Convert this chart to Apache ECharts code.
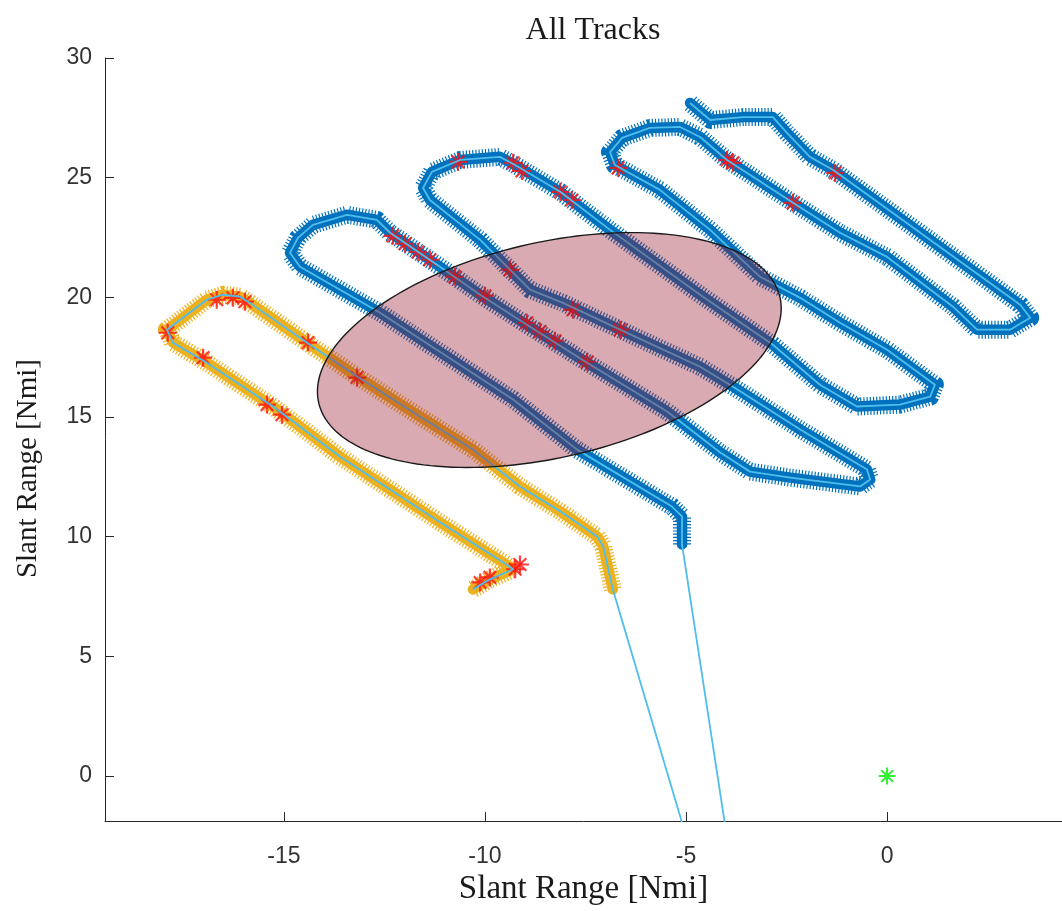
<!DOCTYPE html>
<html>
<head>
<meta charset="utf-8">
<title>All Tracks</title>
<script src="https://cdn.jsdelivr.net/npm/echarts@6/dist/echarts.min.js"></script>
<style>
  html, body { margin: 0; padding: 0; background: #ffffff; }
  #chart { width: 1062px; height: 911px; }
</style>
</head>
<body>
<div id="chart"></div>
<script>
// Sensor location the track lines are drawn from (below the visible area)
const sensorOrigin = [-2.9, -14.4];

// Track 1 (blue), positions in Nmi
const track1X = [-5.10, -5.10, -5.35, -7.71, -9.30, -11.62, -12.61, -14.60, -14.85, -14.65,
  -14.28, -13.43, -12.69, -12.36, -11.12, -10.12, -8.88, -7.46, -5.47, -4.15,
  -3.41, -2.41, -0.67, -0.42, -0.50, -2.16, -3.83, -4.65, -6.64, -8.06,
  -8.88, -10.12, -11.37, -11.54, -11.32, -10.62, -9.63, -9.25, -8.13, -6.89,
  -4.65, -2.84, -1.67, -0.75, 0.32, 1.07, 1.19, 0.00, -1.17, -2.16,
  -3.16, -4.40, -5.65, -6.77, -6.89, -6.59, -5.90, -5.15, -4.65, -3.98,
  -2.34, -1.17, 0.00, 1.64, 2.24, 3.06, 3.56, 3.31, -1.34, -1.92,
  -2.49, -2.84, -3.58, -4.40, -4.90];
const track1Y = [9.68, 10.85, 11.26, 13.64, 15.73, 18.27, 19.36, 21.28, 21.86, 22.49,
  23.03, 23.45, 23.24, 22.70, 21.28, 20.11, 18.77, 17.27, 15.23, 13.52,
  12.72, 12.47, 12.10, 12.39, 12.81, 14.48, 16.27, 17.10, 18.65, 19.77,
  20.32, 22.40, 24.07, 24.57, 25.24, 25.74, 25.87, 25.53, 24.41, 22.82,
  20.11, 18.02, 16.35, 15.44, 15.52, 15.85, 16.35, 17.81, 18.94, 19.98,
  20.86, 22.82, 24.49, 25.53, 26.07, 26.66, 27.08, 27.12, 26.70, 25.74,
  23.95, 22.70, 21.69, 19.61, 18.65, 18.65, 19.15, 19.69, 25.32, 25.87,
  26.87, 27.53, 27.53, 27.41, 28.12];

// Track 2 (gold), positions in Nmi
const track2X = [-6.82, -7.06, -7.21, -8.13, -9.13, -10.30, -11.62, -13.18, -14.28, -15.85,
  -16.09, -16.52, -16.92, -17.91, -17.76, -16.92, -15.27, -13.61, -11.12, -9.55,
  -9.30, -9.88, -10.30];
const track2Y = [7.80, 9.60, 10.01, 11.06, 12.10, 13.64, 15.02, 16.69, 17.94, 19.77,
  20.03, 20.11, 19.90, 18.65, 18.11, 17.27, 15.44, 13.35, 10.60, 8.93,
  8.64, 8.22, 7.80];

// Flagged detections (red)
const flaggedX = [-12.29, -11.99, -11.67, -11.37, -10.75, -10.00, -8.96, -8.63, -8.26, -7.46,
  -9.38, -7.81, -6.64, -10.67, -9.30, -9.08, -8.13, -7.84, -6.69, -3.98,
  -3.83, -2.34, -1.29,
  -17.89, -17.01, -15.42, -15.05, -14.40, -13.18, -9.13, -9.25, -9.88, -10.12,
  -16.67, -16.27, -15.97];
const flaggedY = [22.57, 22.24, 21.90, 21.57, 20.86, 20.07, 18.94, 18.57, 18.19, 17.31,
  21.15, 19.48, 18.65, 25.66, 25.62, 25.28, 24.41, 24.07, 25.41, 25.74,
  25.62, 23.95, 25.20,
  18.52, 17.48, 15.52, 15.10, 18.11, 16.65, 8.84, 8.64, 8.30, 8.09,
  19.90, 19.98, 19.82];

// Own-ship position
const ownX = [0];
const ownY = [0];

// Region of interest: centre (Nmi), semi-axes (Nmi), orientation (deg)
const regionCenter = [-8.4, 17.8];
const regionAxes = [6.3, 4.2];
const regionAngleDeg = 32.7;

// Axis ticks
const xTicks = [-15, -10, -5, 0];
const yTicks = [0, 5, 10, 15, 20, 25, 30];

const BLUE = '#0072BD';
const GOLD = '#EDB120';
const CYAN = '#4DBEEE';
const AXIS = '#262626';
const ASTERISK = 'path://M-1.2,-10L1.2,-10L1.2,10L-1.2,10Z M-10,-1.2L10,-1.2L10,1.2L-10,1.2Z ' +
  'M-6.15,-7.85L7.85,6.15L6.15,7.85L-7.85,-6.15Z M6.15,-7.85L7.85,-6.15L-6.15,7.85L-7.85,6.15Z';

const zip = (xs, ys) => xs.map((x, i) => [x, ys[i]]);

// A track is drawn as a thick marker band: spiky fringe + solid core
function trackBand(xs, ys, color) {
  const data = zip(xs, ys);
  const base = { type: 'line', data, showSymbol: false, symbol: 'none', silent: true,
    animation: false, emphasis: { disabled: true } };
  return [
    Object.assign({}, base, { z: 2, lineStyle: { color, width: 18, type: [1.2, 2.0], cap: 'butt', join: 'round' } }),
    Object.assign({}, base, { z: 3, lineStyle: { color, width: 10.5, cap: 'round', join: 'round' } })
  ];
}

function trackLine(xs, ys) {
  return {
    type: 'line', data: [sensorOrigin].concat(zip(xs, ys)), showSymbol: false, symbol: 'none',
    silent: true, z: 5, emphasis: { disabled: true },
    lineStyle: { color: CYAN, width: 1.8, join: 'round' }
  };
}

const chart = echarts.init(document.getElementById('chart'), null, { renderer: 'canvas' });

const serifFont = '"Liberation Serif", "DejaVu Serif", serif';
const sansFont = '"Liberation Sans", Arial, sans-serif';

chart.setOption({
  animation: false,
  backgroundColor: '#ffffff',
  title: {
    text: 'All Tracks',
    left: 588,
    top: 10,
    textAlign: 'center',
    textStyle: { fontFamily: serifFont, fontSize: 32, fontWeight: 'normal', color: '#1a1a1a' }
  },
  grid: { left: 105, right: 0, top: 58, bottom: 89, containLabel: false },
  xAxis: {
    type: 'value',
    min: -19.45,
    max: 4.35,
    name: 'Slant Range [Nmi]',
    nameLocation: 'middle',
    nameGap: 48,
    nameTextStyle: { fontFamily: serifFont, fontSize: 33, color: '#1a1a1a', verticalAlign: 'top' },
    axisLine: { onZero: false, lineStyle: { color: AXIS, width: 1 } },
    axisTick: { inside: true, length: 9, customValues: xTicks, lineStyle: { color: AXIS } },
    axisLabel: { customValues: xTicks, fontFamily: sansFont, fontSize: 23, color: '#333333', margin: 24 },
    splitLine: { show: false }
  },
  yAxis: {
    type: 'value',
    min: -1.88,
    max: 30,
    name: 'Slant Range [Nmi]',
    nameLocation: 'middle',
    nameGap: 62,
    nameTextStyle: { fontFamily: serifFont, fontSize: 29, color: '#1a1a1a', padding: [0, 58, 0, 0] },
    axisLine: { onZero: false, lineStyle: { color: AXIS, width: 1 } },
    axisTick: { inside: true, length: 9, customValues: yTicks, lineStyle: { color: AXIS } },
    axisLabel: { customValues: yTicks, fontFamily: sansFont, fontSize: 23, color: '#333333', margin: 13 },
    splitLine: { show: false }
  },
  series: [
    ...trackBand(track2X, track2Y, GOLD),
    ...trackBand(track1X, track1Y, BLUE),
    {
      type: 'scatter', data: zip(flaggedX, flaggedY), symbol: ASTERISK, symbolSize: 18,
      itemStyle: { color: '#ff1010' }, z: 4, silent: true
    },
    trackLine(track2X, track2Y),
    trackLine(track1X, track1Y),
    {
      type: 'scatter', data: zip(ownX, ownY), symbol: ASTERISK, symbolSize: 17,
      itemStyle: { color: '#00ee00' }, z: 6, silent: true
    },
    {
      type: 'custom',
      coordinateSystem: 'cartesian2d',
      data: [regionCenter],
      z: 10,
      silent: true,
      renderItem: function (params, api) {
        const cx = api.value(0), cy = api.value(1);
        const a = regionAxes[0], b = regionAxes[1];
        const phi = regionAngleDeg * Math.PI / 180;
        const pts = [];
        for (let i = 0; i < 180; i++) {
          const t = 2 * Math.PI * i / 180;
          const x = cx + a * Math.cos(t) * Math.cos(phi) - b * Math.sin(t) * Math.sin(phi);
          const y = cy + a * Math.cos(t) * Math.sin(phi) + b * Math.sin(t) * Math.cos(phi);
          pts.push(api.coord([x, y]));
        }
        return {
          type: 'polygon',
          shape: { points: pts },
          style: { fill: 'rgba(150,20,40,0.36)', stroke: '#1a1a1a', lineWidth: 1.4 }
        };
      }
    }
  ]
});
</script>
</body>
</html>
